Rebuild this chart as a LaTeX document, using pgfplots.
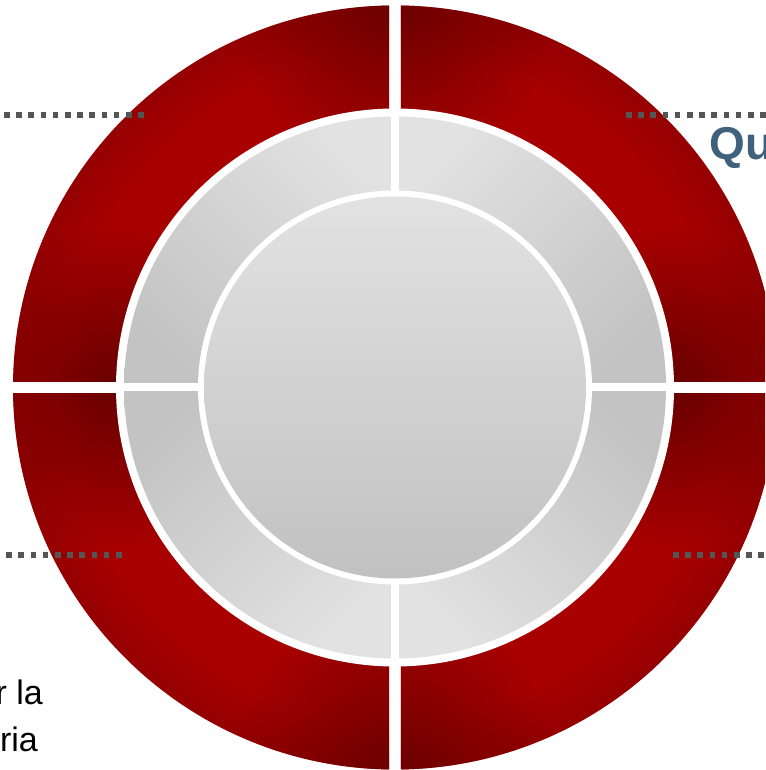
\documentclass[border=0pt]{standalone}
\usepackage{pgfplots}
\pgfplotsset{compat=1.18}
\usepackage{fontspec}
\setmainfont{Liberation Sans}
\usetikzlibrary{fadings}
\tikzfading[name=myfade, inner color=transparent!0, outer color=transparent!100]
\definecolor{rbright}{HTML}{A80000}
\definecolor{redge}{HTML}{950000}
\definecolor{rdark}{HTML}{680000}
\definecolor{glight}{HTML}{E2E2E2}
\definecolor{gdark}{HTML}{C3C3C3}
\definecolor{ilight}{HTML}{E2E2E2}
\definecolor{idark}{HTML}{C1C1C1}
\definecolor{dotgray}{HTML}{555555}
\definecolor{qblue}{HTML}{3F617B}
\pgfdeclareradialshading{redring}{\pgfpoint{0bp}{0bp}}{color(0bp)=(rbright); color(21.5bp)=(rbright); color(25bp)=(redge); color(50bp)=(redge)}
\begin{document}
\begin{tikzpicture}
\begin{axis}[hide axis, scale only axis, width=765pt, height=770pt,
  xmin=0, xmax=765, ymin=0, ymax=770, clip=false]
% ---------- red outer ring (4 segments) ----------
% top-left
\begin{scope}
\clip (axis cs:0,388.3) rectangle (axis cs:389.2,770);
\clip (axis cs:395,382.5) circle[radius=382pt];
\shade[shading=redring] (axis cs:395,382.5) circle[radius=382pt];
\fill[rdark, path fading=myfade, opacity=0.9] (axis cs:395,764.5) circle[radius=165pt];
\fill[rdark, path fading=myfade] (axis cs:116,382.5) circle[radius=160pt];
\end{scope}
% top-right
\begin{scope}
\clip (axis cs:400.8,388.3) rectangle (axis cs:765,770);
\clip (axis cs:395,382.5) circle[radius=382pt];
\shade[shading=redring] (axis cs:395,382.5) circle[radius=382pt];
\fill[rdark, path fading=myfade, opacity=0.9] (axis cs:395,764.5) circle[radius=165pt];
\fill[rdark, path fading=myfade] (axis cs:674,382.5) circle[radius=160pt];
\end{scope}
% bottom-left
\begin{scope}
\clip (axis cs:0,0) rectangle (axis cs:389.2,376.7);
\clip (axis cs:395,382.5) circle[radius=382pt];
\shade[shading=redring] (axis cs:395,382.5) circle[radius=382pt];
\fill[rdark, path fading=myfade, opacity=0.9] (axis cs:395,0.5) circle[radius=165pt];
\fill[rdark, path fading=myfade] (axis cs:116,382.5) circle[radius=160pt];
\end{scope}
% bottom-right
\begin{scope}
\clip (axis cs:400.8,0) rectangle (axis cs:765,376.7);
\clip (axis cs:395,382.5) circle[radius=382pt];
\shade[shading=redring] (axis cs:395,382.5) circle[radius=382pt];
\fill[rdark, path fading=myfade, opacity=0.9] (axis cs:395,0.5) circle[radius=165pt];
\fill[rdark, path fading=myfade] (axis cs:674,382.5) circle[radius=160pt];
\end{scope}
\fill[white] (axis cs:395,382.5) circle[radius=279pt];
% ---------- grey middle ring (4 segments) ----------
\begin{scope}
\clip (axis cs:0,387) rectangle (axis cs:390.5,770);
\clip (axis cs:395,382.5) circle[radius=271pt];
\shade[top color=glight, bottom color=gdark, shading angle=-45] (axis cs:124,382.5) rectangle (axis cs:395,653.5);
\end{scope}
\begin{scope}
\clip (axis cs:399.5,387) rectangle (axis cs:765,770);
\clip (axis cs:395,382.5) circle[radius=271pt];
\shade[top color=glight, bottom color=gdark, shading angle=45] (axis cs:395,382.5) rectangle (axis cs:666,653.5);
\end{scope}
\begin{scope}
\clip (axis cs:0,0) rectangle (axis cs:390.5,378);
\clip (axis cs:395,382.5) circle[radius=271pt];
\shade[top color=glight, bottom color=gdark, shading angle=-135] (axis cs:124,111.5) rectangle (axis cs:395,382.5);
\end{scope}
\begin{scope}
\clip (axis cs:399.5,0) rectangle (axis cs:765,378);
\clip (axis cs:395,382.5) circle[radius=271pt];
\shade[top color=glight, bottom color=gdark, shading angle=135] (axis cs:395,111.5) rectangle (axis cs:666,382.5);
\end{scope}
\fill[white] (axis cs:395,382.5) circle[radius=197pt];
% ---------- inner disc ----------
\shade[top color=ilight, bottom color=idark] (axis cs:395,382.5) circle[radius=191pt];
% ---------- dotted leader lines ----------
\addplot[dotgray, line width=5.5pt, dash pattern=on 5.5pt off 6.7pt, forget plot] coordinates {(4,655) (144,655)};
\addplot[dotgray, line width=5.5pt, dash pattern=on 5.5pt off 6.7pt, forget plot] coordinates {(626,655) (775,655)};
\addplot[dotgray, line width=5.5pt, dash pattern=on 5.5pt off 6.7pt, forget plot] coordinates {(-6,215) (124,215)};
\addplot[dotgray, line width=5.5pt, dash pattern=on 5.5pt off 6.7pt, forget plot] coordinates {(673,215) (775,215)};
% ---------- texts ----------
\node[anchor=base west, inner sep=0pt, text=qblue, font=\fontsize{46}{54}\selectfont\bfseries] at (axis cs:709,610) {Qu};
\node[anchor=base east, inner sep=0pt, font=\fontsize{34}{40}\selectfont] at (axis cs:43,65) {r la};
\node[anchor=base east, inner sep=0pt, font=\fontsize{34}{40}\selectfont] at (axis cs:38,18) {ria};
\end{axis}
\pgfresetboundingbox
\path (current axis.south west) rectangle (current axis.north east);
\end{tikzpicture}
\end{document}
